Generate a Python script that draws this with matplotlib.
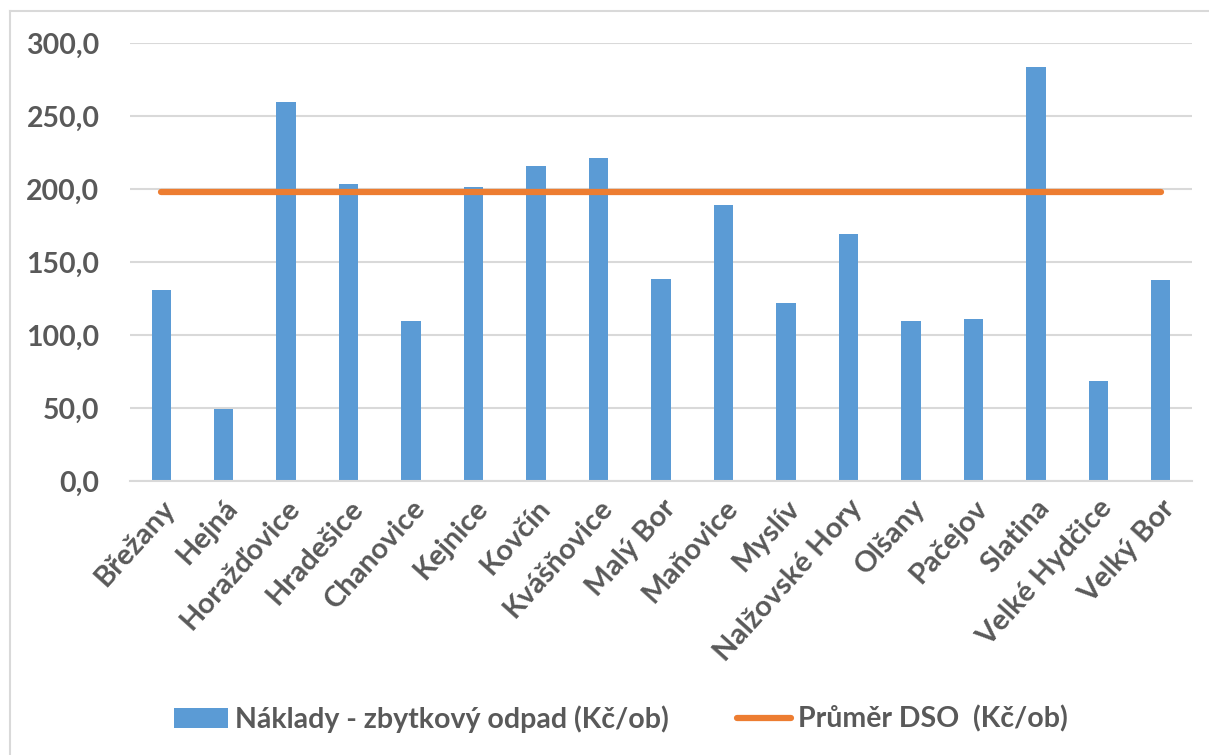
import numpy as np
import matplotlib
matplotlib.use('Agg')
import matplotlib.pyplot as plt

# Data
obce = ['Břežany', 'Hejná', 'Horažďovice', 'Hradešice', 'Chanovice', 'Kejnice',
        'Kovčín', 'Kvášňovice', 'Malý Bor', 'Maňovice', 'Myslív', 'Nalžovské Hory',
        'Olšany', 'Pačejov', 'Slatina', 'Velké Hydčice', 'Velký Bor']
naklady = [130.5, 49.5, 259.5, 203.5, 109.5, 201.5, 215.5, 221.0, 138.5, 189.0,
           121.8, 169.5, 109.3, 111.0, 283.5, 68.8, 137.8]
prumer = 198.0

seda = '#595959'
plt.rcParams['font.family'] = ['Lato', 'DejaVu Sans']
plt.rcParams['font.weight'] = 'bold'

fig = plt.figure(figsize=(12.09, 7.55), dpi=100)
ax = fig.add_axes([130/1209, 1-481/755, 1062/1209, 438/755])

x = np.arange(len(obce))
sloupce = ax.bar(x, naklady, width=0.31, color='#5B9BD5', zorder=2)
cara, = ax.plot(x, [prumer]*len(obce), color='#ED7D31', lw=4.5, solid_capstyle='round', zorder=3)

ax.set_xlim(-0.5, len(obce)-0.5)
ax.set_ylim(0, 300)
ax.set_yticks(np.arange(0, 301, 50))
ax.set_yticklabels([f'{v:.1f}'.replace('.', ',') for v in np.arange(0, 301, 50)],
                   fontsize=20.5, color=seda, fontweight='bold')
ax.set_xticks(x)
ax.set_xticklabels(obce, rotation=48, ha='right', rotation_mode='anchor',
                   fontsize=21, color=seda, fontweight='bold')
ax.tick_params(length=0)
ax.tick_params(axis='y', pad=22)
ax.tick_params(axis='x', pad=10)
ax.grid(axis='y', color='#D9D9D9', lw=1.5, zorder=0)
ax.set_axisbelow(True)
for s in ['top', 'right', 'left']:
    ax.spines[s].set_visible(False)
ax.spines['bottom'].set_color('#D9D9D9')
ax.spines['bottom'].set_linewidth(1.5)

# ramecek grafu
fig.add_artist(plt.Line2D([10/1209, 10/1209], [0, 1-11/755], color='#D9D9D9', lw=1.5))
fig.add_artist(plt.Line2D([10/1209, 1], [1-11/755, 1-11/755], color='#D9D9D9', lw=1.5))

leg = fig.legend([sloupce, cara], ['Náklady - zbytkový odpad (Kč/ob)', 'Průměr DSO  (Kč/ob)'],
                 loc='center', bbox_to_anchor=(621/1209, 1-719/755), ncol=2, frameon=False,
                 fontsize=20.5, handlelength=1.9, handletextpad=0.25, columnspacing=2.4)
for t in leg.get_texts():
    t.set_color(seda)
    t.set_fontweight('bold')

fig.savefig('out.png', dpi=100, facecolor='white')
